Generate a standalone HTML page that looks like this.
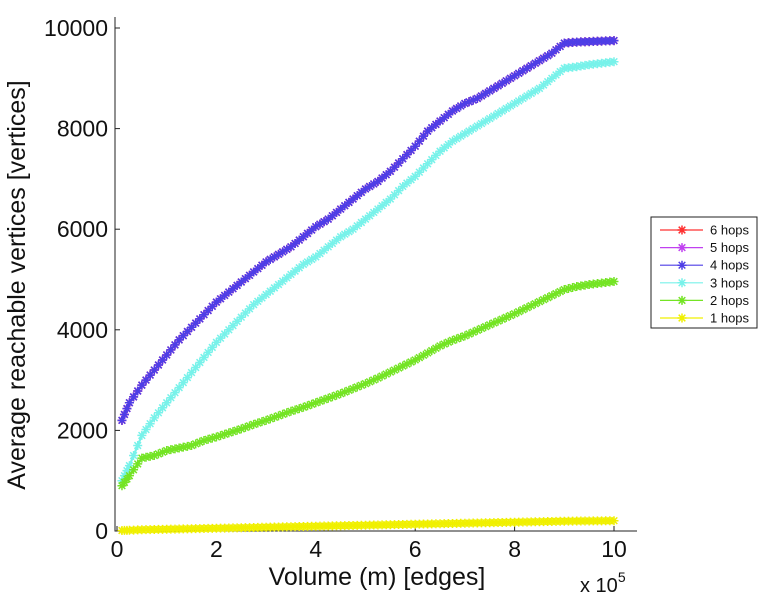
<!DOCTYPE html>
<html><head><meta charset="utf-8"><style>
body{margin:0;background:#fff;width:764px;height:600px;overflow:hidden}
svg{font-family:"Liberation Sans",sans-serif}
</style></head><body>
<svg id="c" width="764" height="600"></svg>
<script>
const xs=[0.1,0.25,0.5,0.75,1,1.25,1.5,1.75,2,2.25,2.5,2.75,3,3.25,3.5,3.75,4,4.25,4.5,4.75,5,5.25,5.5,5.75,6,6.25,6.5,6.75,7,7.25,7.5,7.75,8,8.25,8.5,8.75,9,9.25,9.5,9.75,10];
const hops4=[2200,2550,2900,3200,3500,3800,4050,4300,4550,4750,4950,5150,5350,5500,5650,5850,6050,6200,6400,6600,6800,6950,7150,7400,7650,7950,8150,8350,8500,8600,8750,8900,9050,9200,9350,9500,9700,9720,9730,9740,9750];
const hops5=hops4.slice();
const hops6=hops4.slice();
const hops3=[1000,1300,1900,2250,2550,2850,3150,3450,3750,4000,4250,4500,4700,4900,5100,5300,5450,5650,5850,6000,6200,6400,6600,6850,7050,7300,7550,7750,7900,8050,8200,8350,8500,8650,8800,9000,9200,9230,9270,9300,9330];
const hops2=[900,1100,1450,1500,1600,1650,1700,1800,1870,1950,2030,2120,2200,2290,2380,2460,2550,2640,2730,2830,2930,3040,3160,3280,3400,3540,3680,3790,3880,3990,4100,4210,4320,4440,4560,4680,4800,4860,4900,4930,4960];
const hops1=[10,15,25,30,35,40,45,50,55,60,65,70,75,80,85,90,95,100,105,110,115,120,125,130,135,140,145,150,155,160,165,170,175,180,185,190,195,198,200,202,205];
const xTicks=[0,2,4,6,8,10];
const yTicks=[0,2000,4000,6000,8000,10000];
const L=115,R=637,T=17,B=531;
const X=v=>117+v*49.7;
const Y=v=>B-v*0.0503;
const svg=document.getElementById('c');
const NS='http://www.w3.org/2000/svg';
function mk(t,a,p){const e=document.createElementNS(NS,t);for(const k in a)e.setAttribute(k,a[k]);(p||svg).appendChild(e);return e;}
let ax=mk('path',{d:`M${L} ${T}V${B}H${R}`,fill:'none',stroke:'#222','stroke-width':1});


xTicks.forEach(t=>{
 const l=mk('line',{x1:X(t),x2:X(t),y1:B,y2:B-5,stroke:'#222'});
 
 
 const tx=mk('text',{x:X(t),y:B+26,'font-size':23,'text-anchor':'middle',fill:'#111'});
 tx.textContent=t;
 
 
});
yTicks.forEach(t=>{
 const l=mk('line',{x1:L,x2:L+5,y1:Y(t),y2:Y(t),stroke:'#222'});
 
 
 const tx=mk('text',{x:L-7,y:Y(t)+8,'font-size':23,'text-anchor':'end',fill:'#111'});
 tx.textContent=t;
 
 
});
function star(g,x,y,c){
 const s=4.5;
 mk('path',{d:`M${x-s} ${y}H${x+s}M${x} ${y-s}V${y+s}M${x-3.3} ${y-3.3}L${x+3.3} ${y+3.3}M${x-3.3} ${y+3.3}L${x+3.3} ${y-3.3}`,stroke:c,'stroke-width':1.5,fill:'none'},g);
}
const series=[[hops6,'#ff3030','series-6-hops'],[hops5,'#c040f0','series-5-hops'],[hops4,'#4e3ee6','series-4-hops'],[hops3,'#78f2ea','series-3-hops'],[hops2,'#74e424','series-2-hops'],[hops1,'#f0f000','series-1-hops']];
series.forEach(([d,c,n])=>{
 const g=mk('g',{});
 
 
 mk('polyline',{points:xs.map((x,i)=>X(x)+','+Y(d[i])).join(' '),fill:'none',stroke:c,'stroke-width':2.2},g);
 xs.forEach((x,i)=>{
  star(g,X(x),Y(d[i]),c);
  if(i>0){const px=X(xs[i-1]),py=Y(d[i-1]),cx=X(x),cy=Y(d[i]);
   star(g,(2*px+cx)/3,(2*py+cy)/3,c);star(g,(px+2*cx)/3,(py+2*cy)/3,c);}
 });
});
const xt=mk('text',{x:377,y:585,'font-size':25,'text-anchor':'middle',fill:'#111'});
xt.textContent='Volume (m) [edges]';


const xe=mk('text',{x:580,y:592,'font-size':20,fill:'#111'});
xe.innerHTML='x 10<tspan dy="-10" font-size="14">5</tspan>';


const yt=mk('text',{x:0,y:0,'font-size':25,'text-anchor':'middle',fill:'#111',transform:'translate(25,285) rotate(-90)'});
yt.textContent='Average reachable vertices [vertices]';


const lg=mk('g',{});


mk('rect',{x:651,y:217,width:106,height:111,fill:'#fff',stroke:'#222'},lg);
const names=['6 hops','5 hops','4 hops','3 hops','2 hops','1 hops'];
names.forEach((nm,i)=>{
 const y=230+i*17.6;const c=series[i][1];
 const e=mk('g',{},lg);
 
 
 mk('line',{x1:660,x2:703,y1:y,y2:y,stroke:c,'stroke-width':1.2},e);
 star(e,682,y,c);
 const t=mk('text',{x:710,y:y+4.5,'font-size':13,fill:'#111'},e);
 t.textContent=nm;
});
</script>
</body></html>
